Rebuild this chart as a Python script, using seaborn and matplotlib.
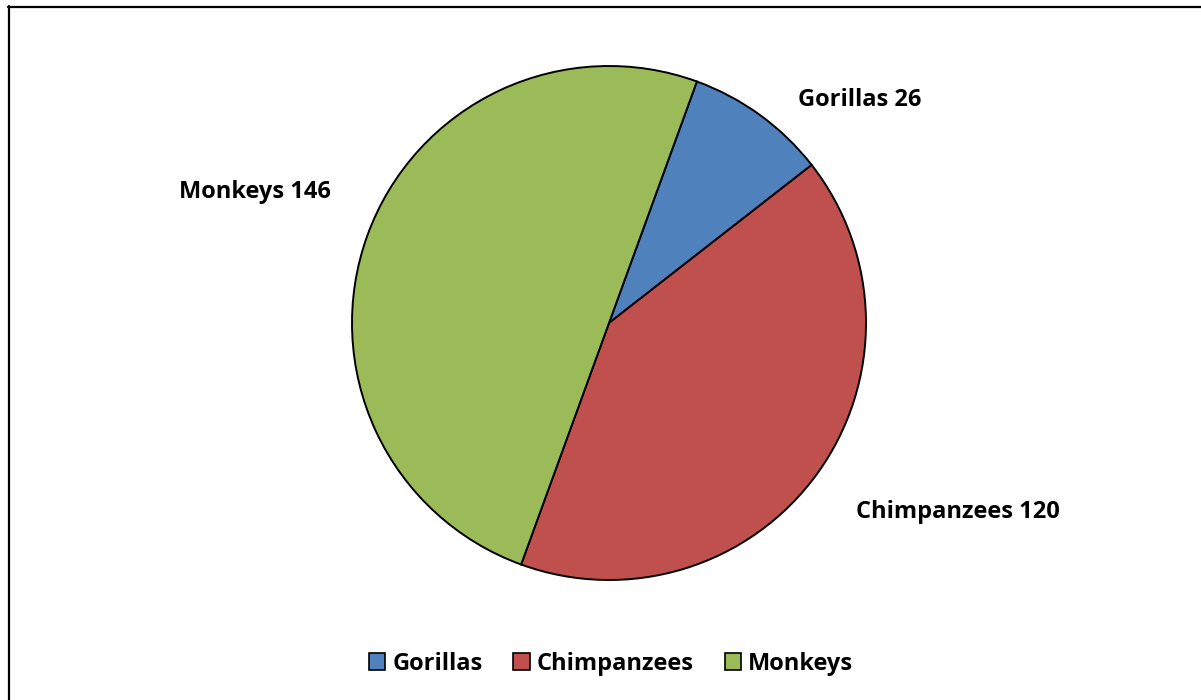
import matplotlib
matplotlib.use("Agg")
import matplotlib.pyplot as plt
from matplotlib.lines import Line2D
from matplotlib.patches import Patch
import seaborn as sns

# data
categories = ["Gorillas", "Chimpanzees", "Monkeys"]
counts = [26, 120, 146]
colors = ["#4F81BD", "#C0504D", "#9BBB59"]

sns.set_theme(style="white")
plt.rcParams["font.family"] = ["Open Sans", "DejaVu Sans"]

W, H = 1201, 700
cx, cy, rad = 609, 323, 257

fig = plt.figure(figsize=(W / 100, H / 100), dpi=100)
ax = fig.add_axes([0, 0, 1, 1])

wedges, _ = ax.pie(
    counts, colors=colors, startangle=70, counterclock=False, radius=1,
    wedgeprops={"edgecolor": "black", "linewidth": 1.4},
)
ax.set_xlim(-cx / rad, (W - cx) / rad)
ax.set_ylim(-(H - cy) / rad, cy / rad)
ax.set_aspect("auto")
ax.axis("off")

# label anchors (pixel centres in the reference), in pie units
label_px = [(860, 100), (958, 512), (255, 192)]
for name, val, (px, py) in zip(categories, counts, label_px):
    ax.text((px - cx) / rad, (cy - py) / rad, f"{name} {val}",
            ha="center", va="center", fontsize=17, fontweight="bold", color="black")

handles = [Patch(facecolor=c, edgecolor="black", linewidth=1.2) for c in colors]
fig.legend(handles, categories, loc="center", bbox_to_anchor=(611 / W, 1 - 664 / H),
           ncol=3, frameon=False, handlelength=0.7, handleheight=0.7,
           handletextpad=0.3, columnspacing=1.3, labelcolor="black",
           prop={"family": ["Open Sans", "DejaVu Sans"], "weight": "bold", "size": 17})

# chart frame (top and left edges visible)
fig.add_artist(Line2D([8 / W, 1], [1 - 6.5 / H, 1 - 6.5 / H], color="black", lw=1.6,
                      transform=fig.transFigure))
fig.add_artist(Line2D([8.5 / W, 8.5 / W], [0, 1 - 6 / H], color="black", lw=1.6,
                      transform=fig.transFigure))

fig.savefig("out.png", dpi=100, facecolor="white")
